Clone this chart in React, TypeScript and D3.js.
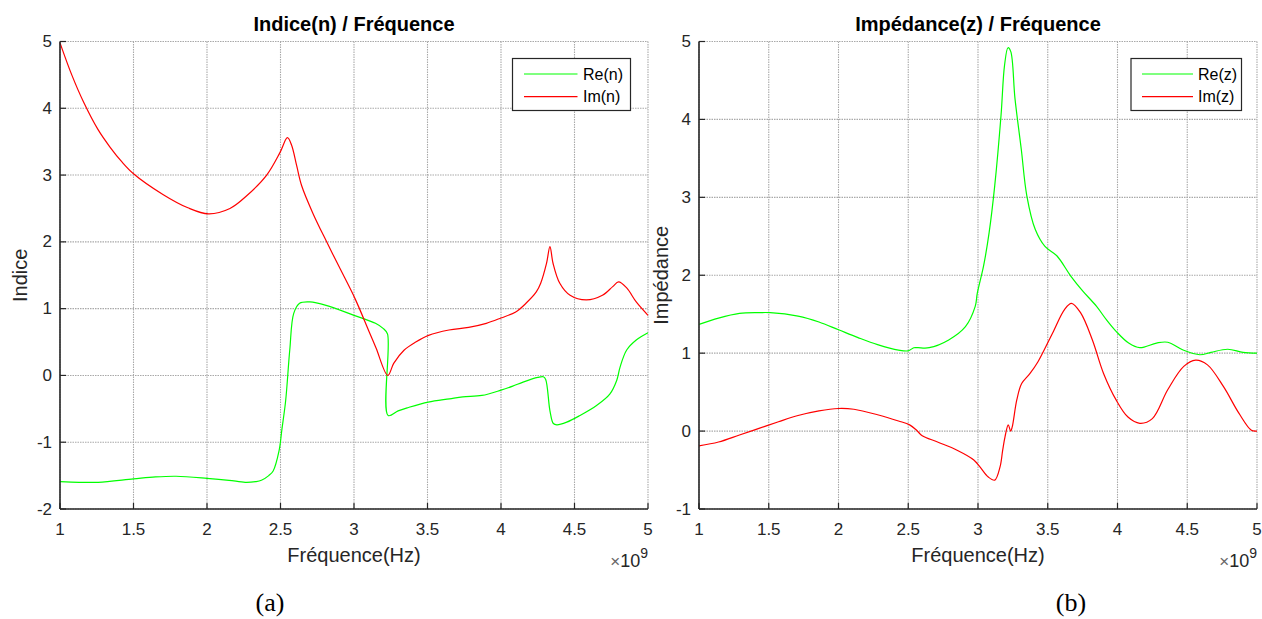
import React from "react";
import * as d3 from "d3";

// ---------- data ----------
const xTicks = [1, 1.5, 2, 2.5, 3, 3.5, 4, 4.5, 5];
const xTickLabels = ["1", "1.5", "2", "2.5", "3", "3.5", "4", "4.5", "5"];
const yTicksA = [-2, -1, 0, 1, 2, 3, 4, 5];
const yTicksB = [-1, 0, 1, 2, 3, 4, 5];

// Panel (a): Indice(n)
const reNFreq = [1.0, 1.13, 1.26, 1.5, 1.65, 1.79, 2.0, 2.15, 2.26, 2.33, 2.37, 2.42, 2.45, 2.49, 2.51, 2.535, 2.563, 2.59, 2.63, 2.7, 2.81, 3.0, 3.146, 3.2, 3.228, 3.232, 3.3, 3.37, 3.505, 3.65, 3.74, 3.87, 4.0, 4.08, 4.15, 4.25, 4.288, 4.304, 4.333, 4.356, 4.38, 4.447, 4.537, 4.65, 4.74, 4.787, 4.81, 4.855, 4.92, 5.0];
const reNValues = [-1.59, -1.6, -1.6, -1.55, -1.52, -1.51, -1.54, -1.57, -1.6, -1.59, -1.57, -1.5, -1.43, -1.13, -0.8, -0.38, 0.38, 0.93, 1.08, 1.1, 1.05, 0.9, 0.78, 0.7, 0.62, -0.6, -0.53, -0.48, -0.4, -0.35, -0.32, -0.3, -0.22, -0.16, -0.1, -0.03, -0.02, -0.06, -0.53, -0.72, -0.74, -0.7, -0.6, -0.45, -0.28, -0.075, 0.125, 0.38, 0.53, 0.64];

const imNFreq = [1.0, 1.08, 1.161, 1.259, 1.34, 1.42, 1.5, 1.7, 1.87, 2.01, 2.156, 2.27, 2.406, 2.497, 2.547, 2.575, 2.61, 2.644, 2.72, 2.814, 2.905, 3.007, 3.1, 3.15, 3.23, 3.27, 3.34, 3.42, 3.507, 3.646, 3.78, 3.9, 4.0, 4.1, 4.17, 4.24, 4.27, 4.31, 4.333, 4.354, 4.4, 4.47, 4.58, 4.69, 4.76, 4.8, 4.855, 4.92, 5.0];
const imNValues = [4.98, 4.5, 4.09, 3.68, 3.42, 3.2, 3.02, 2.71, 2.51, 2.42, 2.5, 2.69, 3.0, 3.34, 3.56, 3.45, 3.14, 2.84, 2.43, 2.0, 1.6, 1.15, 0.67, 0.41, 0.0, 0.18, 0.377, 0.5, 0.6, 0.68, 0.72, 0.78, 0.86, 0.95, 1.08, 1.25, 1.38, 1.68, 1.93, 1.68, 1.38, 1.2, 1.13, 1.2, 1.33, 1.4, 1.31, 1.1, 0.9];

// Panel (b): Impédance(z)
const reZFreq = [1.0, 1.14, 1.29, 1.43, 1.51, 1.71, 1.86, 2.0, 2.14, 2.28, 2.43, 2.5, 2.54, 2.57, 2.65, 2.79, 2.91, 2.98, 2.995, 3.04, 3.08, 3.12, 3.165, 3.19, 3.215, 3.235, 3.265, 3.31, 3.35, 3.41, 3.48, 3.565, 3.665, 3.75, 3.85, 3.92, 3.99, 4.08, 4.16, 4.28, 4.36, 4.47, 4.59, 4.67, 4.79, 4.9, 5.0];
const reZValues = [1.37, 1.45, 1.51, 1.52, 1.52, 1.475, 1.40, 1.3, 1.2, 1.11, 1.04, 1.03, 1.07, 1.07, 1.07, 1.17, 1.34, 1.6, 1.77, 2.12, 2.55, 3.15, 4.05, 4.69, 4.92, 4.87, 4.27, 3.62, 3.02, 2.59, 2.37, 2.25, 1.99, 1.8, 1.6, 1.43, 1.28, 1.13, 1.07, 1.13, 1.14, 1.04, 0.98, 1.01, 1.05, 1.01, 1.0];

const imZFreq = [1.0, 1.14, 1.29, 1.43, 1.57, 1.71, 1.86, 2.0, 2.11, 2.28, 2.43, 2.51, 2.56, 2.6, 2.71, 2.85, 2.97, 3.014, 3.074, 3.12, 3.158, 3.177, 3.194, 3.217, 3.234, 3.245, 3.278, 3.313, 3.373, 3.43, 3.535, 3.62, 3.67, 3.735, 3.82, 3.9, 3.99, 4.075, 4.16, 4.25, 4.36, 4.475, 4.56, 4.645, 4.76, 4.87, 4.96, 5.0];
const imZValues = [-0.19, -0.14, -0.05, 0.035, 0.12, 0.2, 0.26, 0.29, 0.28, 0.21, 0.13, 0.08, 0.01, -0.06, -0.14, -0.245, -0.37, -0.46, -0.59, -0.63, -0.46, -0.245, -0.07, 0.08, 0.0, 0.05, 0.4, 0.61, 0.74, 0.89, 1.26, 1.56, 1.64, 1.52, 1.17, 0.74, 0.4, 0.18, 0.1, 0.16, 0.53, 0.83, 0.91, 0.85, 0.57, 0.23, 0.01, 0.0];

const GREEN = "#00ff00";
const RED = "#ff0000";
const SANS = "'Liberation Sans', Arial, Helvetica, sans-serif";
const SERIF = "'Liberation Serif', 'Times New Roman', serif";
const AX = "#262626";
const GRID = "#a9a9a9";

type Series = { name: string; freq: number[]; values: number[]; color: string };

type PanelProps = {
  left: number;
  right: number;
  top: number;
  bottom: number;
  yDomain: [number, number];
  yTicks: number[];
  title: string;
  yLabel: string;
  yLabelX: number;
  series: Series[];
  legend: { x: number; w: number; lineX0: number; lineX1: number; textX: number };
  caption: string;
  captionX: number;
};

function Panel(p: PanelProps) {
  const x = d3.scaleLinear().domain([1, 5]).range([p.left, p.right]);
  const y = d3.scaleLinear().domain(p.yDomain).range([p.bottom, p.top]);
  const line = d3
    .line<[number, number]>()
    .x((d) => x(d[0]))
    .y((d) => y(d[1]))
    .curve(d3.curveCatmullRom.alpha(0.5));
  const cx = (p.left + p.right) / 2;
  const cy = (p.top + p.bottom) / 2;
  return (
    <g>
      {/* grid */}
      {xTicks.map((t) => (
        <line key={"gx" + t} x1={x(t)} x2={x(t)} y1={p.top} y2={p.bottom} stroke={GRID} strokeWidth={1.1} strokeDasharray="1.5,1" />
      ))}
      {p.yTicks.map((t) => (
        <line key={"gy" + t} x1={p.left} x2={p.right} y1={y(t)} y2={y(t)} stroke={GRID} strokeWidth={1.1} strokeDasharray="1.5,1" />
      ))}
      {/* series */}
      {p.series.map((s) => (
        <path key={s.name} d={line(s.freq.map((f, i) => [f, s.values[i]] as [number, number])) || ""} fill="none" stroke={s.color} strokeWidth={1.2} />
      ))}
      {/* axes */}
      <line x1={p.left} x2={p.right} y1={p.bottom} y2={p.bottom} stroke={AX} strokeWidth={1.6} />
      <line x1={p.left} x2={p.left} y1={p.top} y2={p.bottom} stroke={AX} strokeWidth={1.6} />
      {xTicks.map((t, i) => (
        <g key={"tx" + t}>
          <line x1={x(t)} x2={x(t)} y1={p.bottom} y2={p.bottom - 6} stroke={AX} strokeWidth={1.2} />
          <text x={x(t)} y={p.bottom + 26} textAnchor="middle" fontSize={17} fontFamily={SANS} fill={AX}>
            {xTickLabels[i]}
          </text>
        </g>
      ))}
      {p.yTicks.map((t) => (
        <g key={"ty" + t}>
          <line x1={p.left} x2={p.left + 6} y1={y(t)} y2={y(t)} stroke={AX} strokeWidth={1.2} />
          <text x={p.left - 8} y={y(t)} textAnchor="end" dominantBaseline="central" fontSize={17} fontFamily={SANS} fill={AX}>
            {String(t)}
          </text>
        </g>
      ))}
      {/* title & labels */}
      <text x={cx} y={31} textAnchor="middle" fontSize={20} fontWeight="bold" fontFamily={SANS} fill="#000">
        {p.title}
      </text>
      <text transform={`translate(${p.yLabelX},${cy}) rotate(-90)`} textAnchor="middle" fontSize={20} fontFamily={SANS} fill={AX}>
        {p.yLabel}
      </text>
      <text x={cx} y={562} textAnchor="middle" fontSize={20} fontFamily={SANS} fill={AX}>
        Fréquence(Hz)
      </text>
      <text x={p.right} y={567} textAnchor="end" fontFamily={SANS} fontSize={17} fill={AX}>
        <tspan fontSize={17} fill="#666">×</tspan>
        <tspan fontSize={18}>10</tspan>
        <tspan fontSize={14} dy={-9}>9</tspan>
      </text>
      {/* legend */}
      <rect x={p.legend.x} y={58.5} width={p.legend.w} height={52} fill="#fff" stroke={AX} strokeWidth={1.2} />
      {p.series.map((s, i) => (
        <g key={"lg" + s.name}>
          <line x1={p.legend.lineX0} x2={p.legend.lineX1} y1={74 + i * 22.7} y2={74 + i * 22.7} stroke={s.color} strokeWidth={1.2} />
          <text x={p.legend.textX} y={74 + i * 22.7} dominantBaseline="central" fontSize={16} fontFamily={SANS} fill="#000">
            {s.name}
          </text>
        </g>
      ))}
      <text x={p.captionX} y={611} textAnchor="middle" fontSize={26} fontFamily={SERIF} fill="#000">
        {p.caption}
      </text>
    </g>
  );
}

export default function App() {
  return (
    <svg width={1262} height={619} style={{ position: "absolute", left: 0, top: 0, background: "#fff" }}>
      <rect x={0} y={0} width={1262} height={619} fill="#fff" />
      <Panel
        left={60}
        right={648}
        top={41.5}
        bottom={509}
        yDomain={[-2, 5]}
        yTicks={yTicksA}
        title="Indice(n) / Fréquence"
        yLabel="Indice"
        yLabelX={27}
        series={[
          { name: "Re(n)", freq: reNFreq, values: reNValues, color: GREEN },
          { name: "Im(n)", freq: imNFreq, values: imNValues, color: RED },
        ]}
        legend={{ x: 512.5, w: 118, lineX0: 524, lineX1: 577.5, textX: 583 }}
        caption="(a)"
        captionX={270}
      />
      <Panel
        left={699}
        right={1257}
        top={41.5}
        bottom={509}
        yDomain={[-1, 5]}
        yTicks={yTicksB}
        title="Impédance(z) / Fréquence"
        yLabel="Impédance"
        yLabelX={668}
        series={[
          { name: "Re(z)", freq: reZFreq, values: reZValues, color: GREEN },
          { name: "Im(z)", freq: imZFreq, values: imZValues, color: RED },
        ]}
        legend={{ x: 1131, w: 110.5, lineX0: 1142, lineX1: 1193, textX: 1198 }}
        caption="(b)"
        captionX={1071}
      />
    </svg>
  );
}
